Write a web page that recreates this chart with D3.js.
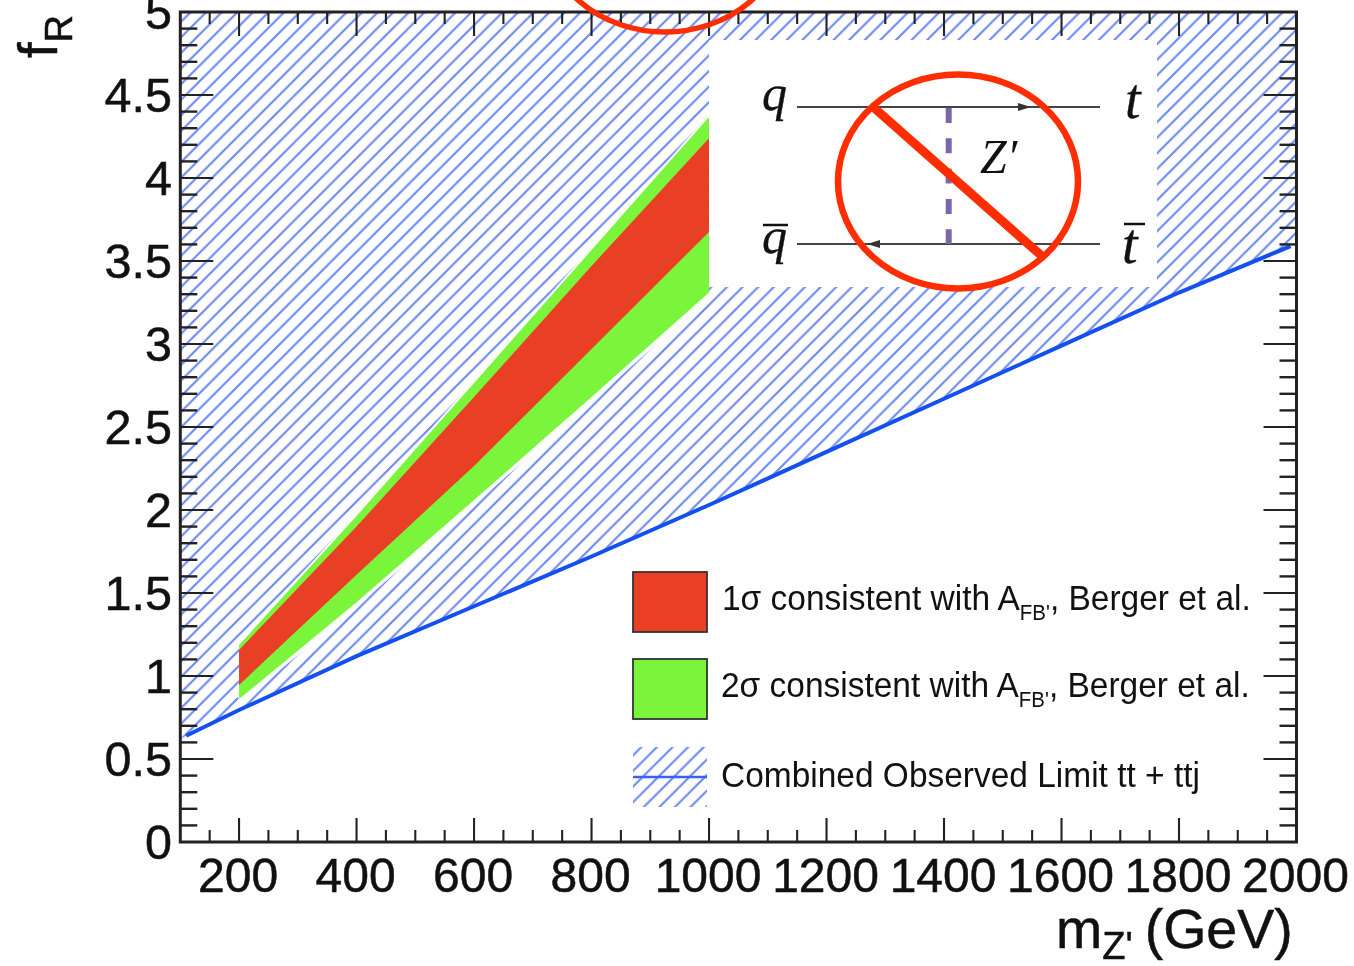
<!DOCTYPE html>
<html><head><meta charset="utf-8">
<script src="https://cdnjs.cloudflare.com/ajax/libs/d3/7.8.5/d3.min.js"></script>
<style>html,body{margin:0;padding:0;background:#fff}svg{display:block;filter:blur(.5px)}text{font-family:"Liberation Sans",Arial,sans-serif;fill:#111}.m{font-family:"Liberation Serif",serif;font-style:italic}</style>
</head><body><div id="c"></div>
<script>
const xMajor=[200,400,600,800,1000,1200,1400,1600,1800,2000];
const xMinor=[150,250,300,350,450,500,550,650,700,750,850,900,950,1050,1100,1150,1250,1300,1350,1450,1500,1550,1650,1700,1750,1850,1900,1950];
const yMajor=[0,0.5,1,1.5,2,2.5,3,3.5,4,4.5,5];
const yMinor=[0.1,0.2,0.3,0.4,0.6,0.7,0.8,0.9,1.1,1.2,1.3,1.4,1.6,1.7,1.8,1.9,2.1,2.2,2.3,2.4,2.6,2.7,2.8,2.9,3.1,3.2,3.3,3.4,3.6,3.7,3.8,3.9,4.1,4.2,4.3,4.4,4.6,4.7,4.8,4.9];
const yLabels=["0","0.5","1","1.5","2","2.5","3","3.5","4","4.5","5"];
const limitM=[110,200,400,600,800,1000,1200,1400,1600,1800,1990];
const limitF=[0.64,0.795,1.12,1.42,1.72,2.03,2.35,2.67,2.99,3.31,3.59];
const bandM=[200,400,600,800,1000];
const s2Hi=[1.187,1.964,2.765,3.566,4.367];
const s1Hi=[1.157,1.9,2.68,3.47,4.24];
const s1Lo=[0.946,1.61,2.265,2.97,3.675];
const s2Lo=[0.861,1.445,2.06,2.68,3.31];
const legendLabels=["1σ consistent with A","2σ consistent with A","Combined Observed Limit tt + ttj"];
const W=1354,H=966;
const x=d3.scaleLinear().domain([100,2000]).range([180.3,1296.5]);
const y=d3.scaleLinear().domain([0,5]).range([842,12]);
const svg=d3.select("#c").append("svg").attr("width",W).attr("height",H);
const defs=svg.append("defs");
const hatch=defs.append("pattern").attr("id","h").attr("patternUnits","userSpaceOnUse").attr("width",15.6).attr("height",15.6);
hatch.append("path").attr("d","M-4,4L4,-4M-4,19.6L19.6,-4M11.6,19.6L19.6,11.6").attr("stroke","#6b88f2").attr("stroke-width",2.1);
defs.append("clipPath").attr("id","plot").append("rect").attr("x",x(100)).attr("y",y(5)).attr("width",x(2000)-x(100)).attr("height",y(0)-y(5));
const pts=limitM.map((m,i)=>[m,limitF[i]]);
const region=d3.line().x(d=>x(d[0])).y(d=>y(d[1]));
const g=svg.append("g").attr("clip-path","url(#plot)");
g.append("path").attr("d",region([[100,5],[100,0.62],...pts,[2000,3.61],[2000,5]])+"Z").attr("fill","url(#h)");
const edge=vals=>d3.line().x((d,i)=>x(bandM[i])).y((d,i)=>y(vals[i]))(bandM);
const area=(lo,hi)=>d3.area().x((d,i)=>x(bandM[i])).y0((d,i)=>y(lo[i])).y1((d,i)=>y(hi[i]))(bandM);
[s2Hi,s2Lo].forEach(v=>g.append("path").attr("d",edge(v)).attr("fill","none").attr("stroke","#fff").attr("stroke-width",v===s2Lo?7:4));
g.append("path").attr("d",area(s2Lo,s2Hi)).attr("fill","#7bf53c");
g.append("path").attr("d",area(s1Lo,s1Hi)).attr("fill","#e93f25");
g.append("path").attr("d",region(pts)).attr("fill","none").attr("stroke","#1450f0").attr("stroke-width",4);
svg.append("rect").attr("x",x(1000)).attr("y",40).attr("width",448).attr("height",247).attr("fill","#fff");
const ax=svg.append("g").attr("stroke","#222").attr("fill","none");
const tickX=(v,len,w)=>{ax.append("line").attr("x1",x(v)).attr("x2",x(v)).attr("y1",y(0)).attr("y2",y(0)-len).attr("stroke-width",w);
 ax.append("line").attr("x1",x(v)).attr("x2",x(v)).attr("y1",y(5)).attr("y2",y(5)+len).attr("stroke-width",w);};
const tickY=(v,len,w)=>{ax.append("line").attr("y1",y(v)).attr("y2",y(v)).attr("x1",x(100)).attr("x2",x(100)+len).attr("stroke-width",w);
 ax.append("line").attr("y1",y(v)).attr("y2",y(v)).attr("x1",x(2000)).attr("x2",x(2000)-len).attr("stroke-width",w);};
xMajor.forEach(v=>tickX(v,24,2.1));xMinor.forEach(v=>tickX(v,12,2.1));
yMajor.forEach(v=>tickY(v,33,2.2));yMinor.forEach(v=>tickY(v,17,2.4));
ax.append("rect").attr("x",x(100)).attr("y",y(5)).attr("width",x(2000)-x(100)).attr("height",y(0)-y(5)).attr("stroke-width",3);
const heavy=s=>s.attr("stroke","#111").attr("stroke-width",.5);
xMajor.forEach(v=>heavy(svg.append("text")).attr("x",x(v)-1).attr("y",892).attr("text-anchor","middle").attr("font-size",48).text(v));
yMajor.forEach((v,i)=>heavy(svg.append("text")).attr("x",172).attr("y",y(v)+17).attr("text-anchor","end").attr("font-size",48.5).text(yLabels[i]));
const xl=heavy(svg.append("text")).attr("x",1056).attr("y",948).attr("font-size",55.5);
xl.append("tspan").text("m");
xl.append("tspan").attr("font-size",38).attr("dy",11).text("Z'");
xl.append("tspan").attr("dy",-11).attr("dx",12).text("(GeV)");
const yl=heavy(svg.append("text")).attr("transform","translate(57,58) rotate(-90)").attr("font-size",56);
yl.append("tspan").text("f");
yl.append("tspan").attr("font-size",38).attr("dy",15).text("R");
const leg=[[633,572,"#e93f25"],[633,659,"#7bf53c"]];
leg.forEach(d=>svg.append("rect").attr("x",d[0]).attr("y",d[1]).attr("width",74).attr("height",60).attr("fill",d[2]).attr("stroke","#333").attr("stroke-width",1.8));
svg.append("rect").attr("x",633).attr("y",747).attr("width",74).attr("height",60).attr("fill","url(#h)");
svg.append("line").attr("x1",633).attr("x2",707).attr("y1",777).attr("y2",777).attr("stroke","#3a62f0").attr("stroke-width",2.5);
const legText=(tx,ty,t,sub)=>{const e=svg.append("text").attr("transform",`translate(${tx},${ty}) scale(.93,1)`).attr("font-size",36);
 e.append("tspan").text(t);
 if(sub){e.append("tspan").attr("font-size",22).attr("dy",10).text("FB'");e.append("tspan").attr("dy",-10).text(", Berger et al.");}};
legText(722,610,legendLabels[0],true);
legText(721,697,legendLabels[1],true);
legText(721,787,legendLabels[2],false);
const F=svg.append("g");
[[797,1100,107],[797,1100,244]].forEach(d=>F.append("line").attr("x1",d[0]).attr("x2",d[1]).attr("y1",d[2]).attr("y2",d[2]).attr("stroke","#444").attr("stroke-width",2.2));
F.append("path").attr("d","M1018,103L1031,107L1018,111Z").attr("fill","#333");
F.append("path").attr("d","M880,240L867,244L880,248Z").attr("fill","#333");
F.append("line").attr("x1",948.7).attr("x2",948.7).attr("y1",108).attr("y2",244).attr("stroke","#7a66a8").attr("stroke-width",6).attr("stroke-dasharray","15,15.3");
[["q",762,110,50],["t",1125,118,56],["q",762,253,50],["t",1122,263,56]].forEach(d=>heavy(F.append("text")).attr("class","m").attr("stroke-width",.3).attr("x",d[1]).attr("y",d[2]).attr("font-size",d[3]).text(d[0]));
F.append("text").attr("class","m").attr("x",980).attr("y",173).attr("font-size",48).text("Z′");
[[763,788,225],[1124,1145,224]].forEach(d=>F.append("line").attr("x1",d[0]).attr("x2",d[1]).attr("y1",d[2]).attr("y2",d[2]).attr("stroke","#111").attr("stroke-width",2.5));
F.append("ellipse").attr("cx",958).attr("cy",181.5).attr("rx",120).attr("ry",107).attr("fill","none").attr("stroke","#ff2d00").attr("stroke-width",6.5);
F.append("line").attr("x1",872).attr("y1",106).attr("x2",1043).attr("y2",257).attr("stroke","#ff2d00").attr("stroke-width",9);
F.append("ellipse").attr("cx",665).attr("cy",-75).attr("rx",122).attr("ry",107).attr("fill","none").attr("stroke","#ff2d00").attr("stroke-width",5.5);
</script></body></html>
